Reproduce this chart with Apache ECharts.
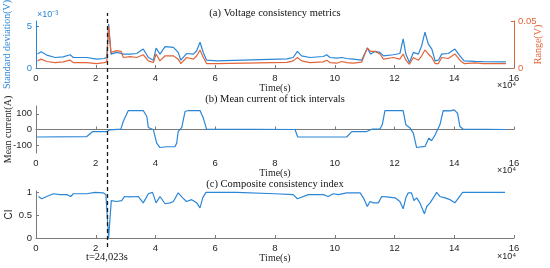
<!DOCTYPE html>
<html>
<head>
<meta charset="utf-8">
<script src="https://cdn.jsdelivr.net/npm/echarts@6/dist/echarts.min.js"></script>
<style>
  html, body { margin: 0; padding: 0; background: #fff; }
  #chart { width: 550px; height: 268px; }
</style>
</head>
<body>
<div id="chart"></div>
<script>
// time axis is in units of 10^4 s
const xTicks = [0, 2, 4, 6, 8, 10, 12, 14, 16];
const eventTime = 2.4023;

// (a) voltage consistency metrics
const timeA = [0.05, 0.17, 0.36, 0.64, 0.91, 1.14, 1.25, 1.70, 2.03, 2.28, 2.37, 2.43, 2.51, 2.70, 2.85, 2.92, 3.15, 3.37, 3.59, 3.76,
  3.93, 4.02, 4.15, 4.32, 4.60, 4.76, 4.85, 5.04, 5.27, 5.38, 5.49, 5.60, 5.71, 6.05, 8.40, 8.61, 8.75, 8.89, 9.17, 9.62,
  9.73, 9.84, 10.07, 10.23, 10.40, 10.62, 10.90, 11.09, 11.20, 11.35, 11.51, 11.63, 11.96, 12.18, 12.29, 12.38, 12.50, 12.63, 12.80, 12.91,
  13.02, 13.13, 13.25, 13.36, 13.47, 13.58, 13.80, 14.02, 14.19, 14.33, 14.70, 14.97, 15.73];
// standard deviation, in 10^-3 V
const stdDev = [1.67, 1.95, 1.55, 1.26, 1.34, 1.59, 1.26, 1.26, 1.06, 1.14, 1.30, 5.30, 1.67, 1.87, 1.75, 1.67, 1.67, 1.74, 2.28, 1.26,
  0.94, 2.40, 1.67, 2.56, 2.48, 1.87, 0.94, 1.74, 1.67, 2.07, 3.09, 1.87, 0.94, 0.85, 1.10, 1.26, 1.99, 1.46, 1.26, 1.38,
  1.59, 1.26, 1.18, 1.26, 1.14, 1.06, 0.94, 2.40, 1.67, 1.99, 1.87, 1.46, 1.59, 1.74, 3.50, 1.67, 0.65, 1.87, 1.67, 2.68,
  4.30, 2.89, 2.28, 0.85, 0.94, 1.67, 1.74, 2.28, 1.46, 0.85, 0.80, 0.77, 0.73];
// range, in V
const rangeV = [0.0076, 0.0094, 0.0069, 0.0058, 0.0065, 0.0083, 0.0058, 0.0058, 0.0047, 0.0058, 0.0065, 0.0450, 0.0167, 0.0185, 0.0177, 0.0112, 0.0120, 0.0112, 0.0141, 0.0076,
  0.0058, 0.0149, 0.0076, 0.0130, 0.0130, 0.0094, 0.0047, 0.0112, 0.0094, 0.0130, 0.0192, 0.0112, 0.0047, 0.0047, 0.0060, 0.0076, 0.0112, 0.0076, 0.0058, 0.0065,
  0.0083, 0.0058, 0.0051, 0.0069, 0.0058, 0.0051, 0.0062, 0.0214, 0.0177, 0.0177, 0.0149, 0.0094, 0.0112, 0.0094, 0.0149, 0.0083, 0.0040, 0.0112, 0.0083, 0.0130,
  0.0192, 0.0149, 0.0112, 0.0047, 0.0047, 0.0112, 0.0101, 0.0149, 0.0083, 0.0047, 0.0054, 0.0047, 0.0047];

// (b) mean current of tick intervals
const timeB = [0.02, 1.70, 1.90, 2.37, 2.48, 2.84, 2.92, 3.09, 3.59, 3.71, 3.76, 3.93, 4.04, 4.15, 4.37, 4.65, 4.71, 4.76, 4.88, 4.99,
  5.10, 5.49, 5.60, 5.71, 8.67, 8.76, 10.40, 10.57, 11.07, 11.24, 11.51, 11.59, 11.68, 12.29, 12.38, 12.52, 12.63, 12.74, 13.02, 13.15,
  13.24, 13.36, 13.52, 13.63, 13.86, 14.00, 14.11, 14.19, 14.30, 15.72];
const meanCurrent = [-48, -45, -13, -13, -2, 2, 51, 121, 121, 83, 13, -2, -87, -115, -110, -110, -87, -13, 13, 115,
  121, 121, 73, 2, 0, -48, -48, -13, -13, 2, 2, 30, 121, 121, 30, 9, -23, -115, -108, -55,
  -72, -34, 30, 121, 119, 125, 104, 19, 2, 0];

// (c) composite consistency index
const timeC = [0.08, 0.19, 0.36, 0.58, 0.80, 1.03, 1.16, 1.25, 1.70, 1.97, 2.25, 2.34, 2.43, 2.52, 2.70, 2.87, 2.96, 3.15, 3.42, 3.59,
  3.76, 3.90, 4.02, 4.15, 4.32, 4.49, 4.60, 4.76, 4.91, 5.04, 5.21, 5.38, 5.49, 5.58, 5.69, 6.72, 8.00, 8.61, 8.75, 9.12,
  9.62, 9.78, 9.95, 10.12, 10.40, 10.85, 10.96, 11.09, 11.18, 11.29, 11.46, 11.57, 11.74, 12.02, 12.18, 12.29, 12.38, 12.46, 12.57, 12.65,
  12.74, 12.85, 13.00, 13.08, 13.19, 13.32, 13.41, 13.52, 13.69, 13.86, 14.02, 14.28, 14.53, 15.70];
const ci = [0.91, 0.86, 0.91, 0.97, 0.95, 0.95, 0.91, 0.97, 0.97, 1.00, 0.99, 0.95, 0.00, 0.82, 0.80, 0.82, 0.91, 0.90, 0.91, 0.77,
  0.97, 1.00, 0.77, 0.91, 0.75, 0.77, 0.80, 0.99, 0.88, 0.80, 0.84, 0.77, 0.66, 0.88, 1.00, 1.00, 0.97, 0.95, 0.86, 0.95,
  0.95, 0.91, 0.97, 0.95, 0.99, 0.99, 0.88, 0.69, 0.80, 0.77, 0.77, 0.91, 0.90, 0.88, 0.80, 0.64, 0.88, 0.99, 0.99, 0.82,
  0.88, 0.77, 0.53, 0.69, 0.77, 0.90, 1.00, 0.91, 0.88, 0.84, 0.77, 1.00, 1.00, 1.00];

const BLUE = '#2b86d6';
const ORANGE = '#e2653a';
const AXIS_GRAY = '#7a7a7a';
const TEXT = '#262626';
const SERIF = 'Liberation Serif';
const SANS = 'Liberation Sans';

const zip = (xs, ys) => xs.map((x, i) => [x, ys[i]]);

const chart = echarts.init(document.getElementById('chart'));

const makeXAxis = (gridIndex) => ({
  type: 'value',
  gridIndex: gridIndex,
  min: 0,
  max: 16,
  interval: 2,
  name: 'Time(s)',
  nameLocation: 'middle',
  nameGap: 15,
  nameMoveOverlap: false,
  nameTextStyle: { fontFamily: SERIF, fontSize: 10, color: TEXT },
  axisLine: { show: true, lineStyle: { color: AXIS_GRAY, width: 1 } },
  axisTick: { show: true, inside: true, length: 3, lineStyle: { color: AXIS_GRAY } },
  axisLabel: { fontFamily: SANS, fontSize: 9.5, color: TEXT, margin: 5, customValues: xTicks },
  splitLine: { show: false }
});

const yAxisOf = (gridIndex, min, max, ticks, name, color, lineColor, extra) => Object.assign({
  type: 'value',
  gridIndex: gridIndex,
  min: min,
  max: max,
  name: name,
  nameLocation: 'middle',
  nameGap: 24,
  nameRotate: 90,
  nameMoveOverlap: false,
  nameTextStyle: { fontFamily: SERIF, fontSize: 10, color: color },
  axisLine: { show: true, lineStyle: { color: lineColor } },
  axisTick: { show: true, inside: true, length: 3, customValues: ticks, lineStyle: { color: lineColor } },
  axisLabel: { fontFamily: SANS, fontSize: 9.5, margin: 4, color: color, customValues: ticks },
  splitLine: { show: false }
}, extra || {});

const option = {
  animation: false,
  grid: [
    { left: 36, right: 36, top: 21, height: 47, outerBoundsMode: 'none' },
    { left: 36, right: 36, top: 106, height: 47, outerBoundsMode: 'none' },
    { left: 36, right: 36, top: 191, height: 47, outerBoundsMode: 'none' },
    { left: 36, right: 36, top: 13, height: 234, outerBoundsMode: 'none' }
  ],
  xAxis: [
    makeXAxis(0),
    makeXAxis(1),
    makeXAxis(2),
    { type: 'value', gridIndex: 3, min: 0, max: 16, show: false }
  ],
  yAxis: [
    yAxisOf(0, 0, 5.65, [0, 5], 'Standard deviation(V)', BLUE, BLUE),
    yAxisOf(0, 0, 0.05, [0, 0.05], 'Range(V)', ORANGE, ORANGE, { position: 'right', nameGap: 19 }),
    yAxisOf(1, -150, 150, [-100, 0, 100], 'Mean current(A)', TEXT, AXIS_GRAY, { nameGap: 23 }),
    yAxisOf(2, 0, 1.03, [0, 0.5, 1], 'CI', TEXT, AXIS_GRAY, {
      nameGap: 22,
      nameTextStyle: { fontFamily: SANS, fontSize: 10, color: TEXT }
    }),
    { type: 'value', gridIndex: 3, min: 0, max: 1, show: false }
  ],
  series: [
    {
      name: 'Standard deviation', type: 'line', xAxisIndex: 0, yAxisIndex: 0,
      data: zip(timeA, stdDev), showSymbol: false,
      lineStyle: { color: BLUE, width: 1.2 }, itemStyle: { color: BLUE }
    },
    {
      name: 'Range', type: 'line', xAxisIndex: 0, yAxisIndex: 1,
      data: zip(timeA, rangeV), showSymbol: false,
      lineStyle: { color: ORANGE, width: 1.2 }, itemStyle: { color: ORANGE }
    },
    {
      name: 'Mean current', type: 'line', xAxisIndex: 1, yAxisIndex: 2,
      data: zip(timeB, meanCurrent), showSymbol: false,
      lineStyle: { color: BLUE, width: 1.2 }, itemStyle: { color: BLUE }
    },
    {
      name: 'CI', type: 'line', xAxisIndex: 2, yAxisIndex: 3,
      data: zip(timeC, ci), showSymbol: false,
      lineStyle: { color: BLUE, width: 1.2 }, itemStyle: { color: BLUE }
    },
    {
      // event marker spanning all three panels
      name: 'event', type: 'line', xAxisIndex: 3, yAxisIndex: 4,
      data: [], silent: true,
      markLine: {
        silent: true,
        symbol: 'none',
        label: { show: false },
        lineStyle: { color: '#1a1a1a', type: [4, 3], width: 1.3 },
        data: [{ xAxis: eventTime }]
      }
    }
  ],
  graphic: [
    { type: 'text', left: 'center', top: 8, style: { text: '(a) Voltage consistency metrics', font: '10.5px ' + SERIF, fill: '#111' } },
    { type: 'text', left: 'center', top: 94, style: { text: '(b) Mean current of tick intervals', font: '10.5px ' + SERIF, fill: '#111' } },
    { type: 'text', left: 'center', top: 179, style: { text: '(c) Composite consistency index', font: '10.5px ' + SERIF, fill: '#111' } },
    { type: 'text', left: 37, top: 10, style: { text: '×10⁻³', font: '9px ' + SANS, fill: BLUE } },
    { type: 'text', left: 497, top: 81, style: { text: '×10⁴', font: '9px ' + SANS, fill: TEXT } },
    { type: 'text', left: 497, top: 166, style: { text: '×10⁴', font: '9px ' + SANS, fill: TEXT } },
    { type: 'text', left: 497, top: 252, style: { text: '×10⁴', font: '9px ' + SANS, fill: TEXT } },
    { type: 'text', left: 86, top: 252, style: { text: 't=24,023s', font: '10.5px ' + SERIF, fill: '#111' } }
  ]
};

chart.setOption(option);
</script>
</body>
</html>
